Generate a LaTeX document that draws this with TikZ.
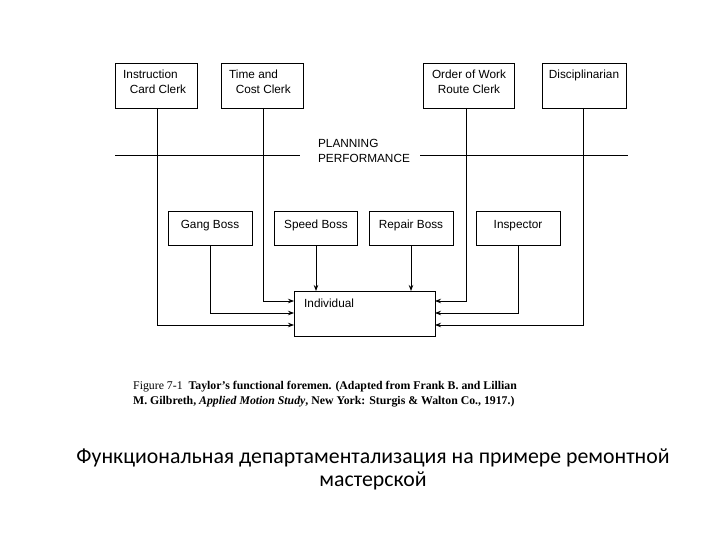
\documentclass[tikz,border=0pt]{standalone}
\usepackage{fontspec}
\setmainfont{Liberation Serif}
\setsansfont{Liberation Sans}
\newfontfamily\ruf{Carlito}
\usetikzlibrary{arrows.meta}
\begin{document}
\begin{tikzpicture}[x=1pt,y=-1pt,
  bx/.style={draw,line width=0.8pt,anchor=north west,inner sep=0pt},
  tx/.style={font=\sffamily\fontsize{11.8}{15}\selectfont,inner sep=0pt},
  ln/.style={line width=0.8pt},
  ar/.style={ln,-{Stealth[length=6pt,width=4.5pt]}}]
\useasboundingbox[fill=white] (0,0) rectangle (720,540);
\node[bx,minimum width=82,minimum height=45] (ic) at (115,63) {};
\node[tx,anchor=north west,align=left] at (123,70) {Instruction\\\ \ Card Clerk};
\node[bx,minimum width=82,minimum height=45] (tc) at (221,63) {};
\node[tx,anchor=north west,align=left] at (229,70) {Time and\\\ \ Cost Clerk};
\node[bx,minimum width=91,minimum height=45] (ow) at (423,63) {};
\node[tx,anchor=north,align=center] at (469,70) {Order of Work\\Route Clerk};
\node[bx,minimum width=84,minimum height=45] (di) at (542,63) {};
\node[tx,anchor=north] at (584,70) {Disciplinarian};
\draw[ln] (115,155) -- (300,155) (420,155) -- (628,155);
\node[tx,align=left] (pp) at (364,151) {PLANNING\\PERFORMANCE};
\node[bx,minimum width=84,minimum height=34] (gb) at (168,211) {};
\node[tx,anchor=base] at (210,229) {Gang Boss};
\node[bx,minimum width=83,minimum height=34] (sb) at (274,211) {};
\node[tx,anchor=base] at (316,229) {Speed Boss};
\node[bx,minimum width=84,minimum height=34] (rb) at (369,211) {};
\node[tx,anchor=base] at (411,229) {Repair Boss};
\node[bx,minimum width=84,minimum height=34] (in) at (476,211) {};
\node[tx,anchor=base] at (518,229) {Inspector};
\node[bx,minimum width=141,minimum height=45] (ind) at (294,291) {};
\node[tx,anchor=north west] at (304,299) {Individual};
\coordinate (l1) at (294,325); \coordinate (l2) at (294,301); \coordinate (l3) at (294,313);
\coordinate (r1) at (435,301); \coordinate (r2) at (435,313); \coordinate (r3) at (435,325);
\draw[ar] (157,108) |- (l1);
\draw[ar] (263,108) |- (l2);
\draw[ar] (210,245) |- (l3);
\draw[ar] (316,245) -- (316,291);
\draw[ar] (411,245) -- (411,291);
\draw[ar] (466,108) |- (r1);
\draw[ar] (518,245) |- (r2);
\draw[ar] (583,108) |- (r3);
\node[anchor=west,font=\fontsize{11.8}{15}\selectfont\bfseries,align=left,inner sep=0pt] (cap) at (133,394) {{\scshape\mdseries Figure 7-1}\ \ Taylor's functional foremen. (Adapted from Frank B. and Lillian\\M. Gilbreth, \textit{Applied Motion Study}, New York: Sturgis \& Walton Co., 1917.)};
\node[font=\ruf\fontsize{21.8}{23}\selectfont,align=center] (ru) at (373,469) {Функциональная департаментализация на примере ремонтной\\мастерской};
\end{tikzpicture}
\end{document}
